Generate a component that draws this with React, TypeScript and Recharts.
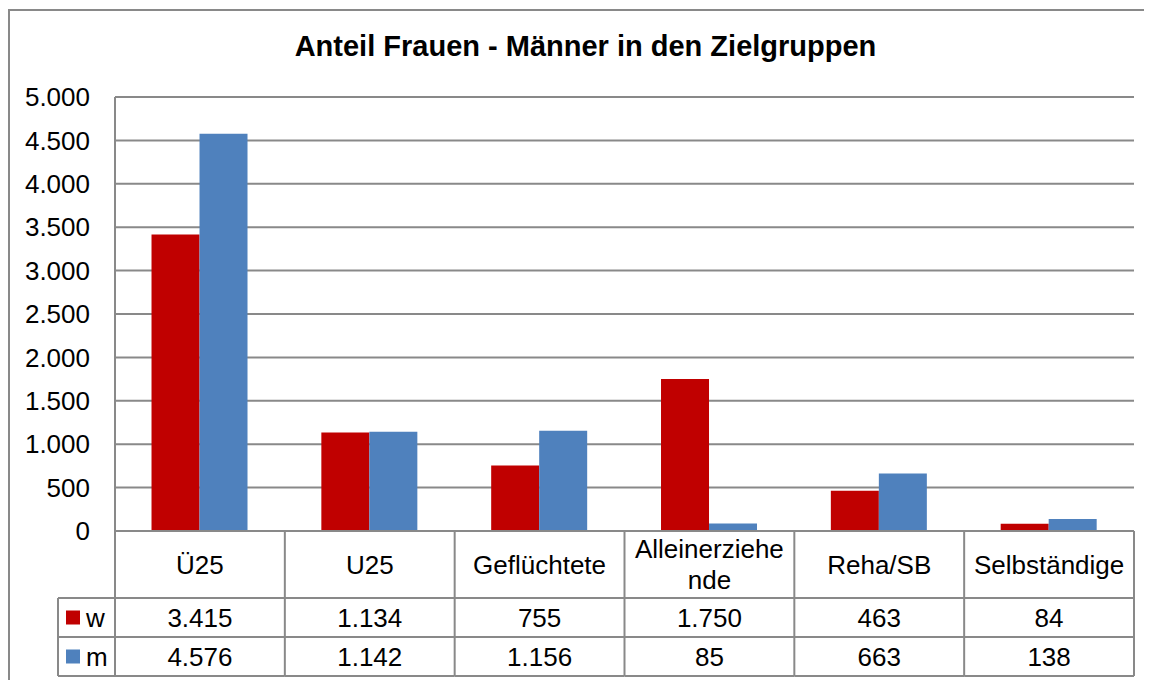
import { BarChart, Bar, XAxis, YAxis, CartesianGrid } from "recharts";

const categories = ["Ü25", "U25", "Geflüchtete", "Alleinerziehende", "Reha/SB", "Selbständige"];
const frauen = [3415, 1134, 755, 1750, 463, 84];
const maenner = [4576, 1142, 1156, 85, 663, 138];
const yTicks = [0, 500, 1000, 1500, 2000, 2500, 3000, 3500, 4000, 4500, 5000];

const RED = "#C00000";
const BLUE = "#4F81BD";
const LINE = "#898989";
const FONT = "'Liberation Sans', Arial, sans-serif";

const data = categories.map((name, i) => ({ name, w: frauen[i], m: maenner[i] }));

// German thousands separator
const fmt = (v: number) => String(v).replace(/\B(?=(\d{3})+(?!\d))/g, ".");

const wrapLabel = (s: string, max = 13) => {
  const out: string[] = [];
  for (let i = 0; i < s.length; i += max) out.push(s.slice(i, i + max));
  return out;
};

// row heights of the data table under the plot
const CAT_H = 67;
const ROW_H = 39;
const LEGEND_W = 57;

// each x tick draws its column of the data table
const TableTick = (props: any) => {
  const { x, y, payload, index } = props;
  const half = payload.offset || 85;
  const left = x - half;
  const right = x + half;
  const y1 = y + CAT_H;
  const y2 = y1 + ROW_H;
  const y3 = y2 + ROW_H;
  const lines = wrapLabel(payload.value);
  const catMid = y + CAT_H / 2;
  const ls = { stroke: LINE, strokeWidth: 2 };
  return (
    <g fontFamily={FONT} fontSize={26} fill="#000">
      {lines.map((t, k) => (
        <text
          key={k}
          x={x}
          y={catMid + (k - (lines.length - 1) / 2) * 31}
          dy="0.36em"
          textAnchor="middle"
        >
          {t}
        </text>
      ))}
      <text x={x} y={y1 + ROW_H / 2} dy="0.36em" textAnchor="middle">
        {fmt(frauen[index])}
      </text>
      <text x={x} y={y2 + ROW_H / 2} dy="0.36em" textAnchor="middle">
        {fmt(maenner[index])}
      </text>
      <line x1={right} x2={right} y1={y} y2={y3} {...ls} />
      <line x1={left} x2={right} y1={y1} y2={y1} {...ls} />
      <line x1={left} x2={right} y1={y2} y2={y2} {...ls} />
      <line x1={left} x2={right} y1={y3} y2={y3} {...ls} />
      {index === 0 && (
        <g>
          <line x1={left} x2={left} y1={y} y2={y3} {...ls} />
          <line x1={left - LEGEND_W} x2={left - LEGEND_W} y1={y1} y2={y3} {...ls} />
          <line x1={left - LEGEND_W} x2={left} y1={y1} y2={y1} {...ls} />
          <line x1={left - LEGEND_W} x2={left} y1={y2} y2={y2} {...ls} />
          <line x1={left - LEGEND_W} x2={left} y1={y3} y2={y3} {...ls} />
          <rect x={left - 49} y={y1 + ROW_H / 2 - 7} width={14} height={14} fill={RED} />
          <rect x={left - 49} y={y2 + ROW_H / 2 - 7} width={14} height={14} fill={BLUE} />
          <text x={left - 29} y={y1 + ROW_H / 2} dy="0.36em">w</text>
          <text x={left - 29} y={y2 + ROW_H / 2} dy="0.36em">m</text>
        </g>
      )}
    </g>
  );
};

export default function App() {
  return (
    <div
      style={{
        position: "relative",
        width: 1144,
        height: 672,
        overflow: "hidden",
        fontFamily: FONT,
      }}
    >
      <style>{"html, body { overflow: hidden; }"}</style>
      <svg
        width={1144}
        height={672}
        style={{ position: "absolute", left: 0, top: 0 }}
      >
        <path d="M1 672 V2 H1144" fill="none" stroke={LINE} strokeWidth={2} />
      </svg>
      <div
        style={{
          position: "absolute",
          left: 0,
          top: 22,
          width: 1155,
          textAlign: "center",
          fontWeight: "bold",
          fontSize: 29,
          lineHeight: "32px",
          color: "#000",
        }}
      >
        Anteil Frauen - Männer in den Zielgruppen
      </div>
      <div style={{ position: "absolute", left: 0, top: 0 }}>
        <BarChart
          width={1144}
          height={672}
          data={data}
          margin={{ top: 89, right: 18, left: 0, bottom: 4 }}
          barCategoryGap="21.5%"
          barGap={0}
        >
          <CartesianGrid vertical={false} stroke={LINE} strokeWidth={2} />
          <YAxis
            width={107}
            domain={[0, 5000]}
            ticks={yTicks}
            interval={0}
            tickFormatter={fmt}
            tickLine={false}
            tickSize={0}
            tickMargin={25}
            axisLine={{ stroke: LINE, strokeWidth: 2 }}
            tick={{ fill: "#000", fontSize: 26, fontFamily: FONT }}
          />
          <XAxis
            dataKey="name"
            height={145}
            interval={0}
            tickLine={false}
            tickSize={0}
            tickMargin={0}
            axisLine={{ stroke: LINE, strokeWidth: 2 }}
            tick={<TableTick />}
          />
          <Bar dataKey="w" fill={RED} isAnimationActive={false} />
          <Bar dataKey="m" fill={BLUE} isAnimationActive={false} />
        </BarChart>
      </div>
    </div>
  );
}
